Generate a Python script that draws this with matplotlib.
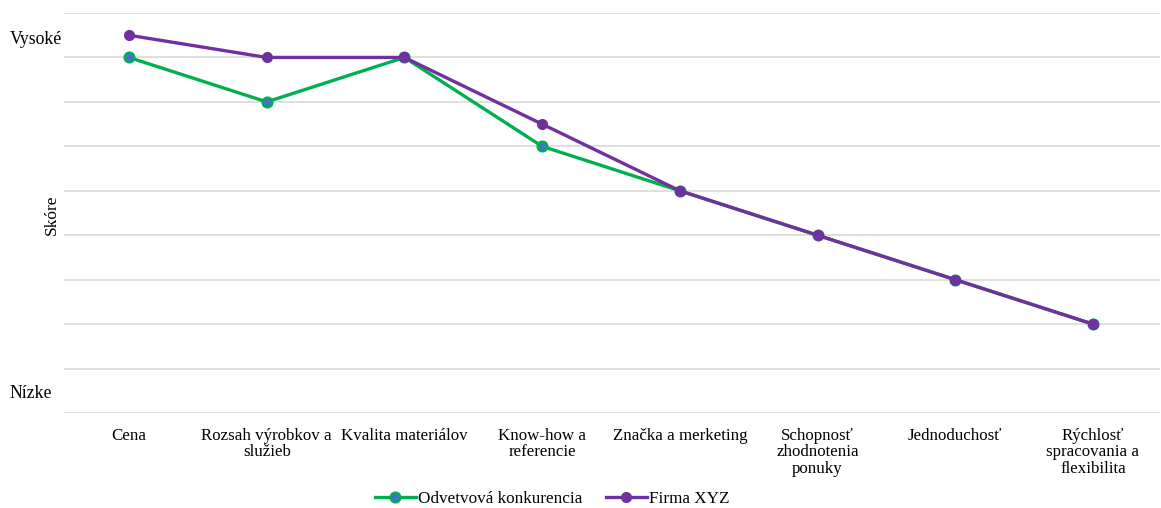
import matplotlib
matplotlib.use("Agg")
import matplotlib.pyplot as plt
from matplotlib.lines import Line2D

categories = [
    "Cena",
    "Rozsah výrobkov a\nslužieb",
    "Kvalita materiálov",
    "Know-how a\nreferencie",
    "Značka a merketing",
    "Schopnosť\nzhodnotenia\nponuky",
    "Jednoduchosť",
    "Rýchlosť\nspracovania a\nflexibilita",
]
konkurencia = [8, 7, 8, 6, 5, 4, 3, 2]
firma_xyz = [8.5, 8, 8, 6.5, 5, 4, 3, 2]

green = "#00B050"
purple = "#7030A0"
blue_fill = "#4472C4"

plt.rcParams["font.family"] = ["Liberation Serif", "DejaVu Serif"]

fig = plt.figure(figsize=(11.61, 5.08), dpi=100)
ax = fig.add_axes([64 / 1161, 1 - 413 / 508, (1160 - 64) / 1161, 400 / 508])

x = list(range(len(categories)))
ax.plot(x, konkurencia, color=green, lw=2.4, marker="o", ms=7,
        mfc=blue_fill, mec=green, mew=1.7, zorder=3, solid_joinstyle="miter")
ax.plot(x, firma_xyz, color=purple, lw=2.4, marker="o", ms=7,
        mfc=purple, mec=purple, zorder=4, solid_joinstyle="miter")

ax.set_xlim(-0.472, 7.487)
ax.set_ylim(0, 9)
ax.set_yticks(range(0, 10))
ax.yaxis.grid(True, color="#D9D9D9", lw=1.2)
ax.set_axisbelow(True)
ax.tick_params(axis="y", left=False, labelleft=False)
ax.tick_params(axis="x", bottom=False, pad=7, labelsize=12.2)
ax.set_xticks(x)
ax.set_xticklabels(categories, linespacing=1.06)
for s in ax.spines.values():
    s.set_visible(False)

fig.text(36 / 1161, 1 - 40 / 508, "Vysoké", ha="center", va="center", fontsize=12.8)
fig.text(31 / 1161, 1 - 393 / 508, "Nízke", ha="center", va="center", fontsize=12.8)
fig.text(52 / 1161, 1 - 215 / 508, "Skóre", ha="center", va="center",
         rotation=90, fontsize=12.5)

handles = [
    Line2D([], [], color=green, lw=2.4, marker="o", ms=7, mfc=blue_fill,
           mec=green, mew=1.7),
    Line2D([], [], color=purple, lw=2.4, marker="o", ms=7, mfc=purple,
           mec=purple),
]
fig.legend(handles, ["Odvetvová konkurencia", "Firma XYZ"], loc="center",
           bbox_to_anchor=(552 / 1161, 1 - 499 / 508), ncol=2, frameon=False,
           fontsize=12.3, handlelength=2.4, handletextpad=0.1, columnspacing=1.4,
           borderpad=0)

fig.savefig("out.png", dpi=100)
